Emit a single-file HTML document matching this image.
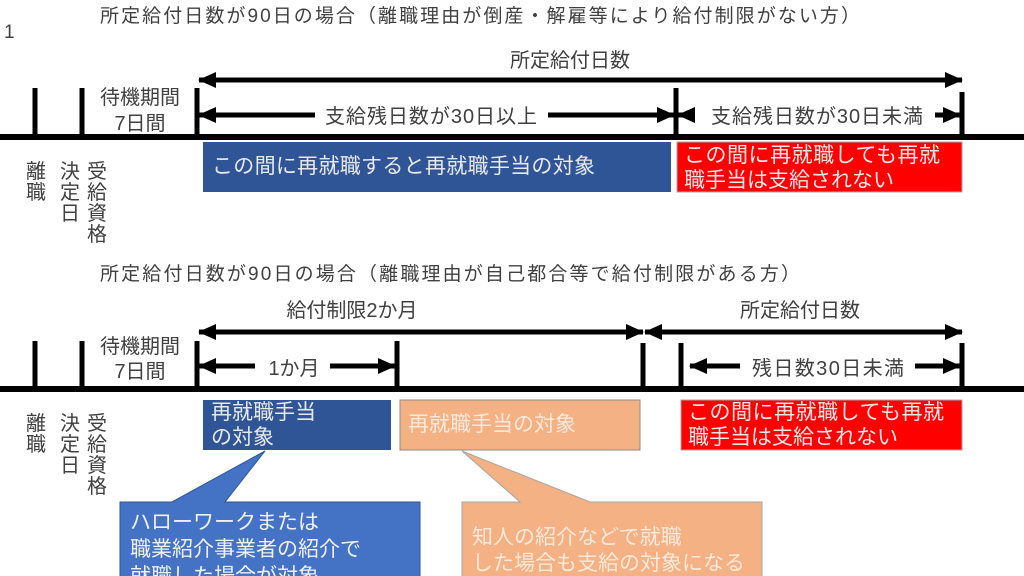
<!DOCTYPE html>
<html><head><meta charset="utf-8"><style>
html,body{margin:0;padding:0;background:#fff;}
svg{display:block;}
text{font-family:"Liberation Sans","Noto Sans CJK JP",sans-serif;}
</style></head><body>
<svg width="1024" height="576" viewBox="0 0 1024 576" xmlns="http://www.w3.org/2000/svg">
<defs>
<marker id="ah" markerUnits="userSpaceOnUse" markerWidth="18" markerHeight="16" refX="17" refY="8" orient="auto-start-reverse"><path d="M0,0 L18,8 L0,16 Z" fill="#000"/></marker>
</defs>
<g font-size="19" fill="#404040">
<text x="4" y="38">1</text>
<text x="100" y="22" textLength="760">所定給付日数が90日の場合（離職理由が倒産・解雇等により給付制限がない方）</text>
<text x="100" y="280" textLength="700">所定給付日数が90日の場合（離職理由が自己都合等で給付制限がある方）</text>
</g>
<!-- TOP -->
<g stroke="#000" stroke-width="5" fill="none">
<line x1="0" y1="137" x2="1024" y2="137" stroke-width="6"/>
<line x1="35" y1="88" x2="35" y2="137"/>
<line x1="82" y1="88" x2="82" y2="137"/>
<line x1="197" y1="88" x2="197" y2="137"/>
<line x1="676" y1="88" x2="676" y2="137"/>
<line x1="962" y1="92" x2="962" y2="137"/>
<line x1="199" y1="80" x2="962" y2="80" marker-start="url(#ah)" marker-end="url(#ah)"/>
<line x1="199" y1="115" x2="315" y2="115" marker-start="url(#ah)"/>
<line x1="548" y1="115" x2="674" y2="115" marker-end="url(#ah)"/>
<line x1="678" y1="115" x2="692" y2="115" marker-start="url(#ah)"/>
<line x1="935" y1="115" x2="960" y2="115" marker-end="url(#ah)"/>
</g>
<g font-size="20" fill="#404040">
<text x="570" y="67" text-anchor="middle">所定給付日数</text>
<text x="140" y="104" text-anchor="middle">待機期間</text>
<text x="140" y="130" text-anchor="middle">7日間</text>
<text x="431" y="123" text-anchor="middle" textLength="212">支給残日数が30日以上</text>
<text x="817" y="123" text-anchor="middle" textLength="212">支給残日数が30日未満</text>
</g>
<rect x="203" y="142" width="468" height="50" fill="#2f5597"/>
<rect x="677" y="142" width="285" height="50" fill="#ff0000" stroke="#a6a6a6" stroke-width="1"/>
<g font-size="21" fill="#e8e8e8">
<text x="212" y="173" textLength="383">この間に再就職すると再就職手当の対象</text>
<text x="684" y="162" textLength="256">この間に再就職しても再就</text>
<text x="684" y="187">職手当は支給されない</text>
</g>
<!-- BOTTOM -->
<g stroke="#000" stroke-width="5" fill="none">
<line x1="0" y1="389" x2="1024" y2="389" stroke-width="6"/>
<line x1="35" y1="341" x2="35" y2="389"/>
<line x1="82" y1="341" x2="82" y2="389"/>
<line x1="197" y1="341" x2="197" y2="389"/>
<line x1="397" y1="341" x2="397" y2="389"/>
<line x1="643" y1="343" x2="643" y2="389"/>
<line x1="681" y1="343" x2="681" y2="389"/>
<line x1="962" y1="343" x2="962" y2="389"/>
<line x1="199" y1="332" x2="643" y2="332" marker-start="url(#ah)" marker-end="url(#ah)"/>
<line x1="645" y1="332" x2="962" y2="332" marker-start="url(#ah)" marker-end="url(#ah)"/>
<line x1="199" y1="366" x2="255" y2="366" marker-start="url(#ah)"/>
<line x1="330" y1="366" x2="395" y2="366" marker-end="url(#ah)"/>
<line x1="690" y1="366" x2="740" y2="366" marker-start="url(#ah)"/>
<line x1="915" y1="366" x2="960" y2="366" marker-end="url(#ah)"/>
</g>
<g font-size="20" fill="#404040">
<text x="352" y="317" text-anchor="middle">給付制限2か月</text>
<text x="800" y="317" text-anchor="middle">所定給付日数</text>
<text x="140" y="353" text-anchor="middle">待機期間</text>
<text x="140" y="378" text-anchor="middle">7日間</text>
<text x="294" y="375" text-anchor="middle">1か月</text>
<text x="828" y="375" text-anchor="middle" textLength="152">残日数30日未満</text>
</g>
<rect x="203" y="400" width="188" height="50" fill="#2f5597"/>
<rect x="400" y="400" width="240" height="50" fill="#f4b183" stroke="#8c8c8c" stroke-width="1"/>
<rect x="681" y="400" width="281" height="50" fill="#ff0000" stroke="#a6a6a6" stroke-width="1"/>
<g font-size="21" fill="#e8e8e8">
<text x="211" y="419">再就職手当</text>
<text x="211" y="444">の対象</text>
<text x="408" y="431" fill="#fbe9dc">再就職手当の対象</text>
<text x="688" y="419" textLength="256">この間に再就職しても再就</text>
<text x="688" y="444">職手当は支給されない</text>
</g>
<!-- vertical labels -->
<g font-size="20" fill="#404040" text-anchor="middle">
<text x="36" y="178">離</text><text x="36" y="199">職</text>
<text x="70" y="178">決</text><text x="70" y="199">定</text><text x="70" y="220">日</text>
<text x="97" y="178">受</text><text x="97" y="199">給</text><text x="97" y="220">資</text><text x="97" y="241">格</text>
<text x="36" y="430">離</text><text x="36" y="451">職</text>
<text x="70" y="430">決</text><text x="70" y="451">定</text><text x="70" y="472">日</text>
<text x="97" y="430">受</text><text x="97" y="451">給</text><text x="97" y="472">資</text><text x="97" y="493">格</text>
</g>
<!-- callouts -->
<path d="M120,502 L172,502 L265,451 L225,502 L420,502 L420,580 L120,580 Z" fill="#4472c4" stroke="#2f5597" stroke-width="1"/>
<path d="M462,502 L520,502 L462,451 L590,502 L762,502 L762,580 L462,580 Z" fill="#f4b183" stroke="#a6a6a6" stroke-width="1"/>
<g font-size="21" fill="#f0f0f0">
<text x="130" y="529">ハローワークまたは</text>
<text x="130" y="556">職業紹介事業者の紹介で</text>
<text x="130" y="583">就職した場合が対象</text>
<text x="472" y="544" fill="#fbe9dc">知人の紹介などで就職</text>
<text x="472" y="570" fill="#fbe9dc">した場合も支給の対象になる</text>
</g>
</svg>
</body></html>
